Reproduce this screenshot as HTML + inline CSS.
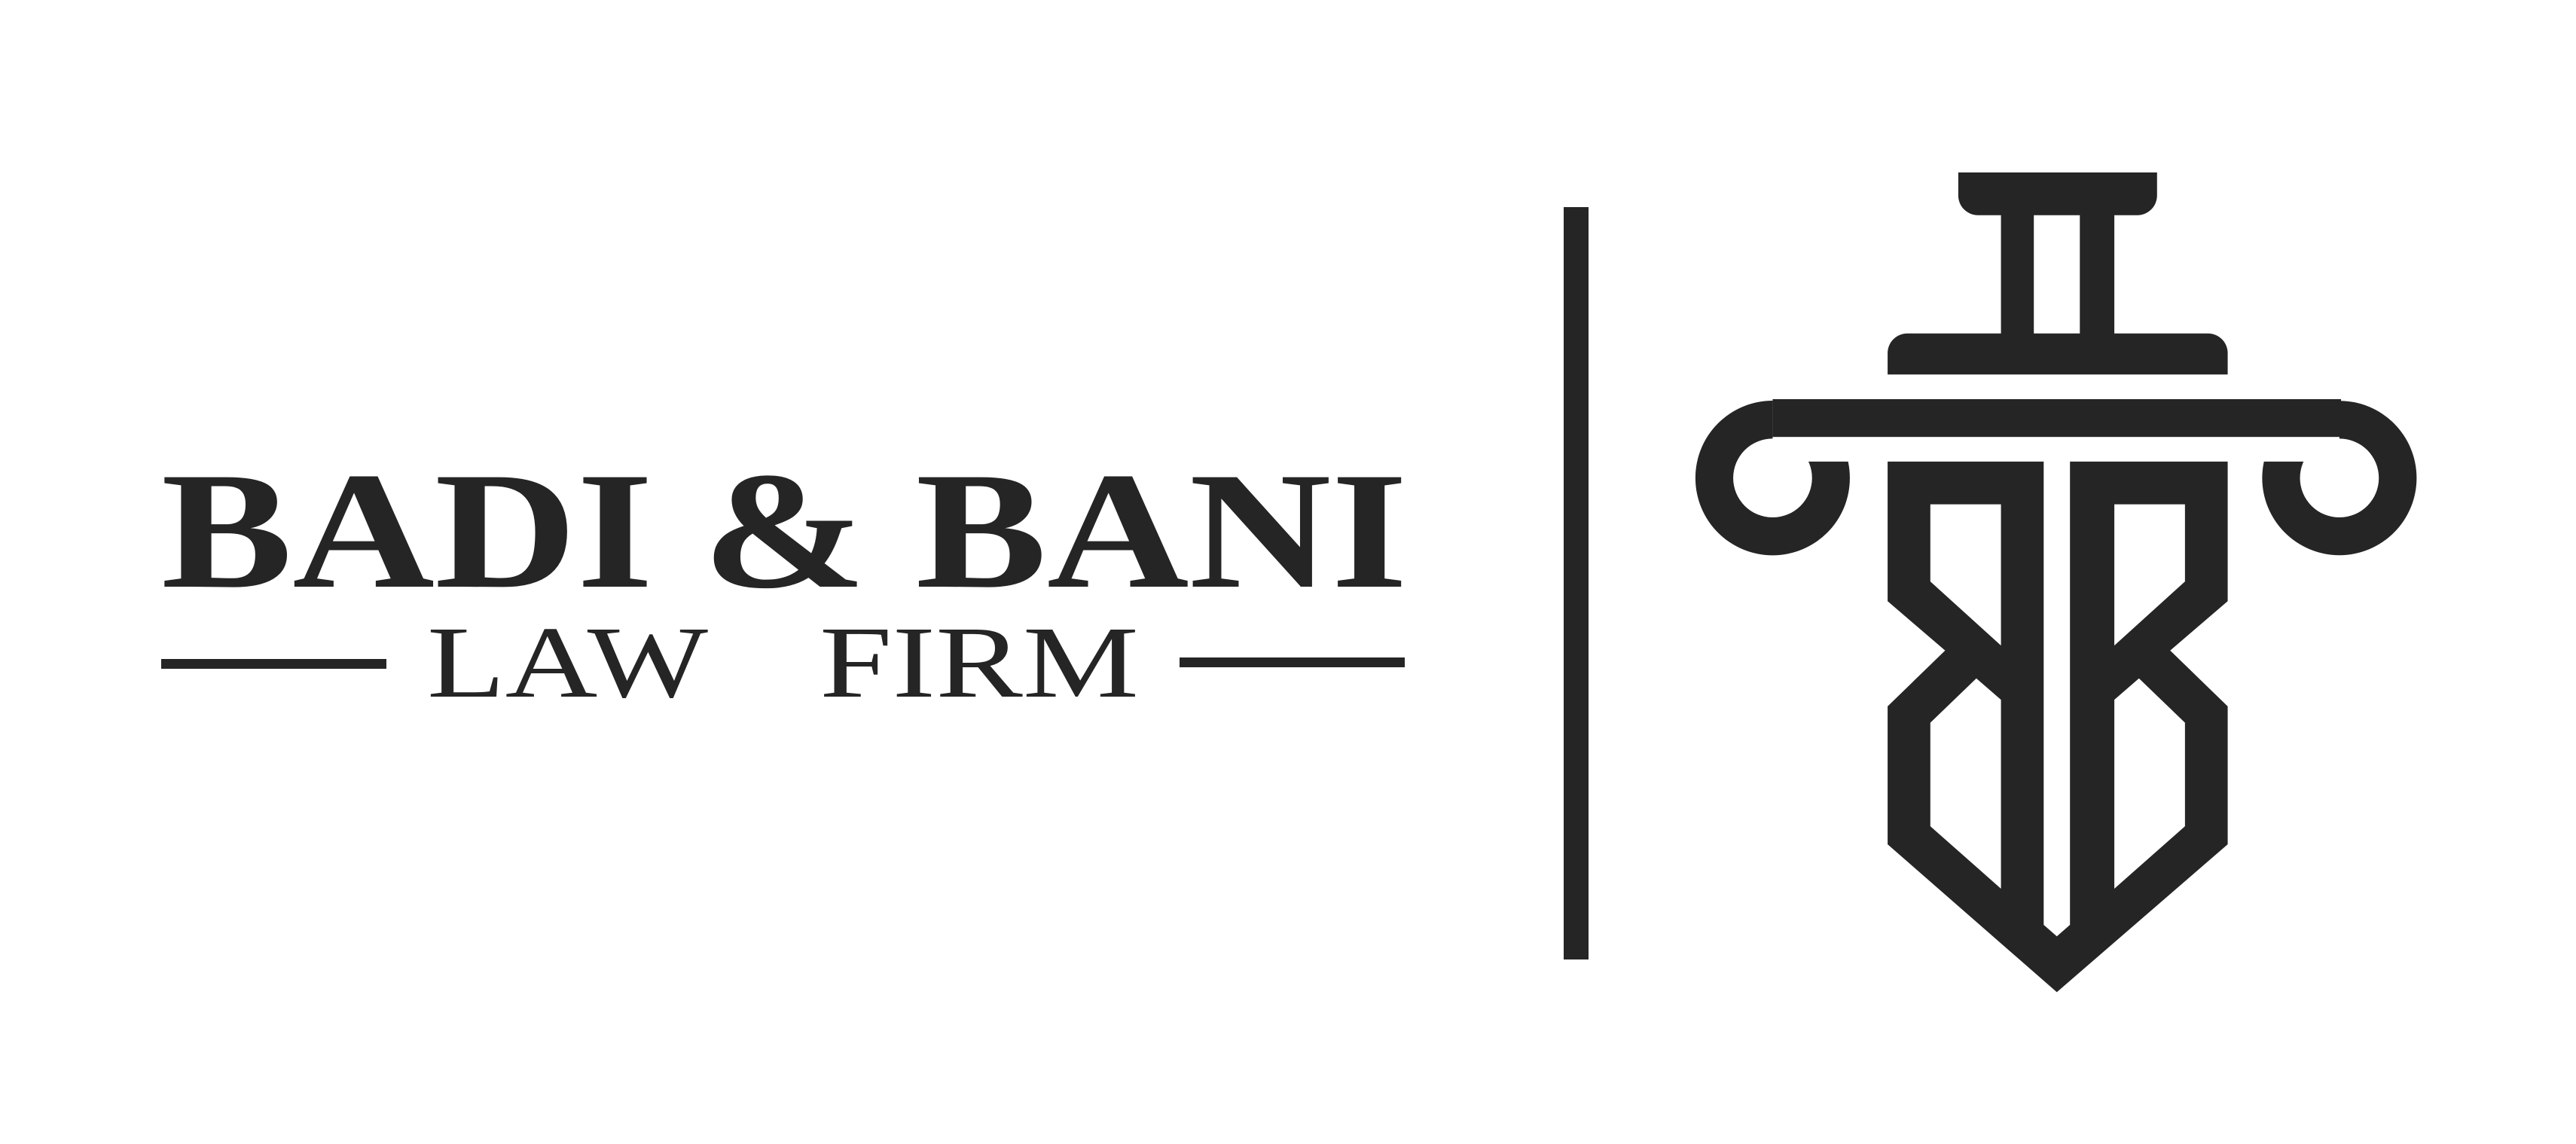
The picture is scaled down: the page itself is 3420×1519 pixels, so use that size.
<!DOCTYPE html>
<html><head><meta charset="utf-8"><style>html,body{margin:0;padding:0;background:#fff;}svg{display:block}</style></head>
<body>
<svg width="3420" height="1519" viewBox="0 0 3420 1519" xmlns="http://www.w3.org/2000/svg">
<rect width="3420" height="1519" fill="#fff"/>
<text x="214" y="779" font-family="Liberation Serif, serif" font-weight="bold" font-size="222" fill="#252525" textLength="1655" lengthAdjust="spacingAndGlyphs">BADI &amp; BANI</text>
<rect x="214" y="875" width="299" height="13" fill="#252525"/>
<rect x="1566" y="873" width="299" height="13" fill="#252525"/>
<text x="567" y="925" font-family="Liberation Serif, serif" font-size="136" fill="#252525" textLength="373" lengthAdjust="spacingAndGlyphs">LAW</text>
<text x="1088" y="925" font-family="Liberation Serif, serif" font-size="136" fill="#252525" textLength="424" lengthAdjust="spacingAndGlyphs">FIRM</text>
<rect x="2076" y="275" width="33" height="999" fill="#252525"/>
<g transform="scale(2.1811)" fill="#252525">
  <path d="M1192 105 H1313 V119 a12 12 0 0 1 -12 12 H1287 V203 H1344 a12 12 0 0 1 12 12 V228 H1149 V215 a12 12 0 0 1 12 -12 H1218 V131 H1204 a12 12 0 0 1 -12 -12 Z M1238 131 V203 H1266 V131 Z" fill-rule="evenodd"/>
  <path fill-rule="evenodd" d="M1032 291 a47 47 0 1 0 94 0 a47 47 0 1 0 -94 0 Z M1055 291 a24 24 0 1 0 48 0 a24 24 0 1 0 -48 0 Z"/>
  <path fill-rule="evenodd" d="M1377 291 a47 47 0 1 0 94 0 a47 47 0 1 0 -94 0 Z M1400 291 a24 24 0 1 0 48 0 a24 24 0 1 0 -48 0 Z"/>
  <rect x="1079" y="240" width="52" height="41" fill="#fff"/>
  <rect x="1373" y="240" width="51" height="41" fill="#fff"/>
  <rect x="1079" y="243" width="346" height="23"/>
  <path fill-rule="evenodd" d="M1149 281 H1244 V563 L1252 570 L1260 563 V281 H1356 V366 L1321 396 L1356 430 V514 L1252 604 L1149 514 V430 L1184 396 L1149 366 Z
   M1175 307 H1218 V393 L1175 354 Z
   M1175 440 L1203 413 L1218 426 V541 L1175 503 Z
   M1287 307 H1330 V354 L1287 393 Z
   M1287 426 L1302 413 L1330 440 V503 L1287 541 Z"/>
</g>
</svg>
</body></html>
